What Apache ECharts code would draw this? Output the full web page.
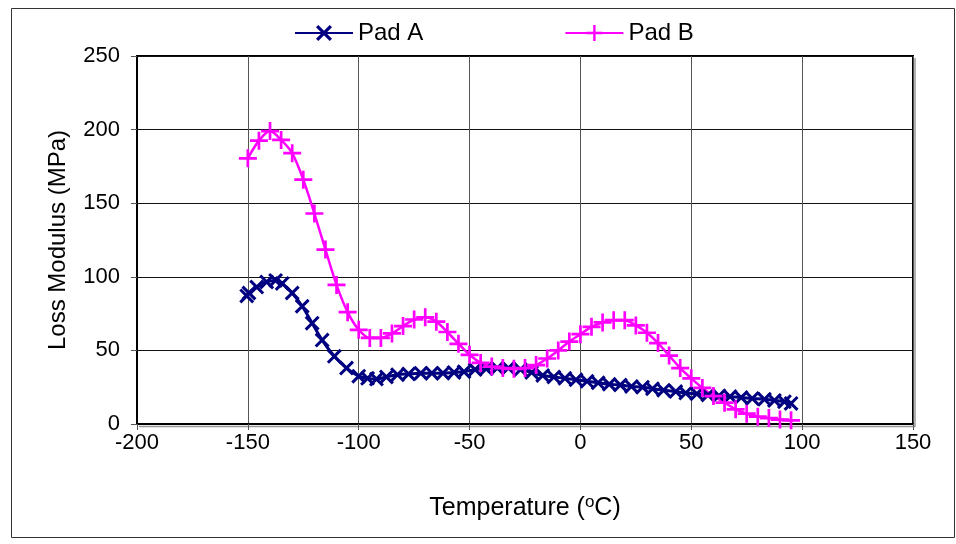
<!DOCTYPE html>
<html>
<head>
<meta charset="utf-8">
<script src="https://cdn.jsdelivr.net/npm/echarts@6/dist/echarts.min.js"></script>
<style>html,body{margin:0;padding:0;background:#fff;}#c{width:956px;height:544px;}</style>
</head>
<body>
<div id="c"></div>
<script>
// ---- data ----
const padA_T = [-150.5, -149.5, -146, -141.5, -137.5, -134.5, -130, -125.5, -121, -116.5, -111, -105.5, -100, -96, -92, -87.5, -82.5, -77.5, -72, -67, -62, -57, -52.5, -47.5, -42.5, -37.5, -32.5, -27, -22, -17, -12, -7, -2, 3, 8, 13, 18, 23, 28, 32.5, 37.5, 43, 47.5, 52.5, 57.5, 62.5, 67.5, 72.5, 77.5, 83, 87.5, 92, 95];
const padA_V = [87, 89, 93, 96.5, 97.5, 95.5, 89, 80, 68.5, 57, 46, 38, 32.5, 31, 30.5, 32, 33.5, 34, 34.5, 34.5, 34.5, 35, 35.5, 37, 37.5, 38, 38, 37, 35, 33, 32, 31, 30, 29, 28, 27, 26.5, 25.5, 25, 24, 23, 22, 21, 20.5, 19.7, 19.2, 18.6, 18, 17.4, 16.8, 16, 15.2, 14];
const padB_T = [-150, -145, -140, -135, -130, -125, -120, -115, -110, -105, -100, -95, -90, -85, -80, -75, -70, -65, -60, -55, -50, -45, -40, -35, -30, -25, -20, -15, -10, -5, 0, 5, 10, 15, 20, 25, 30, 35, 40, 45, 50, 55, 60, 65, 70, 75, 80, 85, 90, 95];
const padB_V = [180.5, 192.5, 199, 193, 184, 166, 143, 118.5, 94.5, 76, 64, 58.5, 58.5, 61.5, 66.5, 71, 72.5, 69.5, 62.5, 54.5, 47, 41.5, 39, 38, 37.5, 38, 40, 44.5, 50, 56, 61, 66, 69, 70.5, 70.5, 67, 62, 55, 46.5, 38, 31, 24.5, 19, 14.5, 10, 7, 5, 4, 3, 2.5];
const seriesNames = ['Pad A', 'Pad B'];
const xTicks = {min: -200, max: 150, interval: 50};
const yTicks = {min: 0, max: 250, interval: 50};
const yTitle = 'Loss Modulus (MPa)';

const FONT = 'Liberation Sans, Arial, sans-serif';
const xMark = 'path://M0,2L2,0L14,12L12,14ZM12,0L14,2L2,14L0,12Z';
const plusMark = 'path://M6.8,0H9.2V6.8H16V9.2H9.2V16H6.8V9.2H0V6.8H6.8Z';

const chart = echarts.init(document.getElementById('c'), null, {renderer: 'canvas'});
chart.setOption({
  animation: false,
  backgroundColor: '#fff',
  textStyle: {fontFamily: FONT},
  graphic: [{
    type: 'rect', shape: {x: 11.5, y: 8.5, width: 943, height: 529},
    style: {fill: 'none', stroke: '#333', lineWidth: 1}, z: -10
  }, {
    type: 'line', shape: {x1: 915, y1: 58, x2: 915, y2: 427},
    style: {stroke: '#999', lineWidth: 1.5}, z: -5
  }, {
    type: 'line', shape: {x1: 139, y1: 426.5, x2: 915, y2: 426.5},
    style: {stroke: '#999', lineWidth: 1.5}, z: -5
  }],
  legend: {
    left: 294, top: 21, padding: 0, itemGap: 141, itemWidth: 58, itemHeight: 20,
    textStyle: {fontFamily: FONT, fontSize: 24, color: '#000'},
    data: seriesNames
  },
  grid: {left: 137, right: 43, top: 56, bottom: 120, show: true, borderColor: '#000', borderWidth: 2, backgroundColor: '#fff'},
  xAxis: {
    type: 'value', min: xTicks.min, max: xTicks.max, interval: xTicks.interval,
    name: '{a|Temperature (}{s|o}{a|C)}', nameLocation: 'middle', nameGap: 70,
    nameTextStyle: {rich: {a: {fontFamily: FONT, fontSize: 25, color: '#000', lineHeight: 28}, s: {fontFamily: FONT, fontSize: 17, color: '#000', verticalAlign: 'top', lineHeight: 11}}},
    axisLine: {show: true, onZero: false, lineStyle: {color: '#000', width: 2}},
    axisTick: {show: true, inside: false, length: 6, lineStyle: {color: '#555'}},
    axisLabel: {fontFamily: FONT, fontSize: 22, color: '#000', margin: 8},
    splitLine: {show: true, lineStyle: {color: '#555', width: 1}}
  },
  yAxis: {
    type: 'value', min: yTicks.min, max: yTicks.max, interval: yTicks.interval,
    name: yTitle, nameLocation: 'middle', nameGap: 67,
    nameTextStyle: {fontFamily: FONT, fontSize: 24, color: '#000'},
    axisLine: {show: true, onZero: false, lineStyle: {color: '#000', width: 2}},
    axisTick: {show: true, inside: false, length: 6, lineStyle: {color: '#555'}},
    axisLabel: {fontFamily: FONT, fontSize: 22, color: '#000', margin: 17},
    splitLine: {show: true, lineStyle: {color: '#111', width: 1}}
  },
  series: [{
    name: seriesNames[0], type: 'line', smooth: 0.3,
    data: padA_T.map((t, i) => [t, padA_V[i]]),
    symbol: xMark, symbolSize: 15, showAllSymbol: true,
    lineStyle: {color: '#000080', width: 3},
    itemStyle: {color: '#000080'}
  }, {
    name: seriesNames[1], type: 'line', smooth: 0.3,
    data: padB_T.map((t, i) => [t, padB_V[i]]),
    symbol: plusMark, symbolSize: 18, showAllSymbol: true,
    lineStyle: {color: '#FF00FF', width: 2.5},
    itemStyle: {color: '#FF00FF'}
  }]
});
</script>
</body>
</html>
